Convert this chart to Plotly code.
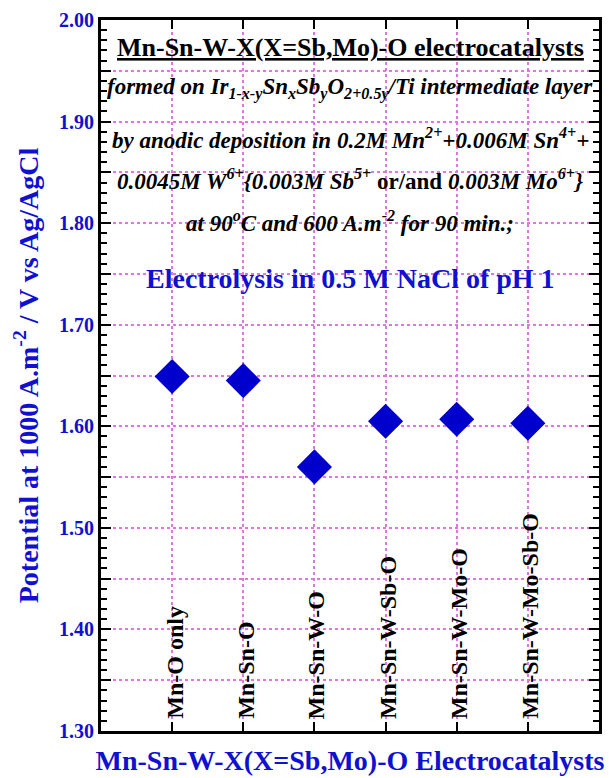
import plotly.graph_objects as go

categories = ["Mn-O only", "Mn-Sn-O", "Mn-Sn-W-O", "Mn-Sn-W-Sb-O", "Mn-Sn-W-Mo-O", "Mn-Sn-W-Mo-Sb-O"]
potential = [1.649, 1.645, 1.560, 1.605, 1.607, 1.603]

y_ticks = [1.30, 1.35, 1.40, 1.45, 1.50, 1.55, 1.60, 1.65, 1.70, 1.75, 1.80, 1.85, 1.90, 1.95, 2.00]
y_ticktext = ["1.30", "", "1.40", "", "1.50", "", "1.60", "", "1.70", "", "1.80", "", "1.90", "", "2.00"]

BLUE = "#0000cc"
TXTBLUE = "#1010d0"
GRID = "#dd77dd"
FONT = "Liberation Serif, Times New Roman, serif"

fig = go.Figure()
fig.add_trace(go.Scatter(
    x=categories, y=potential, mode="markers",
    marker=dict(symbol="diamond", size=27, color=BLUE, line=dict(width=0)),
    showlegend=False,
))

for c in categories:
    fig.add_annotation(x=c, y=1.30, xref="x", yref="y", text="<b>%s</b>" % c,
                       textangle=-90, showarrow=False, xanchor="center", yanchor="bottom",
                       yshift=10, xshift=2,
                       font=dict(family=FONT, size=24, color="black"))

title_lines = [
    ("<b><u>Mn-Sn-W-X(X=Sb,Mo)-O electrocatalysts</u></b>", 0.962, 26, "black"),
    ("<b><i>formed on Ir<sub>1-x-y</sub>Sn<sub>x</sub>Sb<sub>y</sub>O<sub>2+0.5y</sub>/Ti intermediate layer</i></b>", 0.903, 23, "black"),
    ("<b><i>by anodic deposition in 0.2M Mn<sup>2+</sup>+0.006M Sn<sup>4+</sup>+</i></b>", 0.834, 23, "black"),
    ("<b><i>0.0045M W<sup>6+</sup>{0.003M Sb<sup>5+</sup></i> or/and <i>0.003M Mo<sup>6+</sup>}</i></b>", 0.775, 23, "black"),
    ("<b><i>at 90<sup>o</sup>C and 600 A.m<sup>-2</sup> for 90 min.;</i></b>", 0.717, 23, "black"),
    ("<b>Electrolysis in 0.5 M NaCl of pH 1</b>", 0.637, 28, TXTBLUE),
]
for txt, yy, sz, col in title_lines:
    fig.add_annotation(x=0.5, y=yy, xref="paper", yref="paper", text=txt, showarrow=False,
                       xanchor="center", yanchor="middle",
                       font=dict(family=FONT, size=sz, color=col))

fig.update_layout(
    width=609, height=778,
    margin=dict(l=101, r=7, t=20, b=47),
    paper_bgcolor="white", plot_bgcolor="white",
    font=dict(family=FONT),
    xaxis=dict(
        type="category", range=[-1, 6], showticklabels=False,
        showgrid=True, gridcolor=GRID, griddash="dot", gridwidth=2,
        ticks="inside", ticklen=9, tickwidth=2, tickcolor="black",
        showline=True, linecolor="black", linewidth=3, mirror="ticks",
        zeroline=False,
        title=dict(text="<b>Mn-Sn-W-X(X=Sb,Mo)-O Electrocatalysts</b>", standoff=18,
                   font=dict(family=FONT, size=28, color=TXTBLUE)),
    ),
    yaxis=dict(
        range=[1.30, 2.00], tickmode="array", tickvals=y_ticks, ticktext=y_ticktext,
        showgrid=True, gridcolor=GRID, griddash="dot", gridwidth=2,
        ticks="inside", ticklen=10, tickwidth=2, tickcolor="black",
        minor=dict(dtick=0.01, ticks="inside", ticklen=6, tickwidth=2, tickcolor="black", showgrid=False),
        showline=True, linecolor="black", linewidth=3, mirror="ticks",
        zeroline=False,
        tickfont=dict(family=FONT, size=20, color=TXTBLUE, weight="bold"),
        title=dict(text="<b>Potential at 1000 A.m<sup>-2</sup> / V vs Ag/AgCl</b>", standoff=13,
                   font=dict(family=FONT, size=28, color=TXTBLUE)),
    ),
)

fig.write_html("out.html")
